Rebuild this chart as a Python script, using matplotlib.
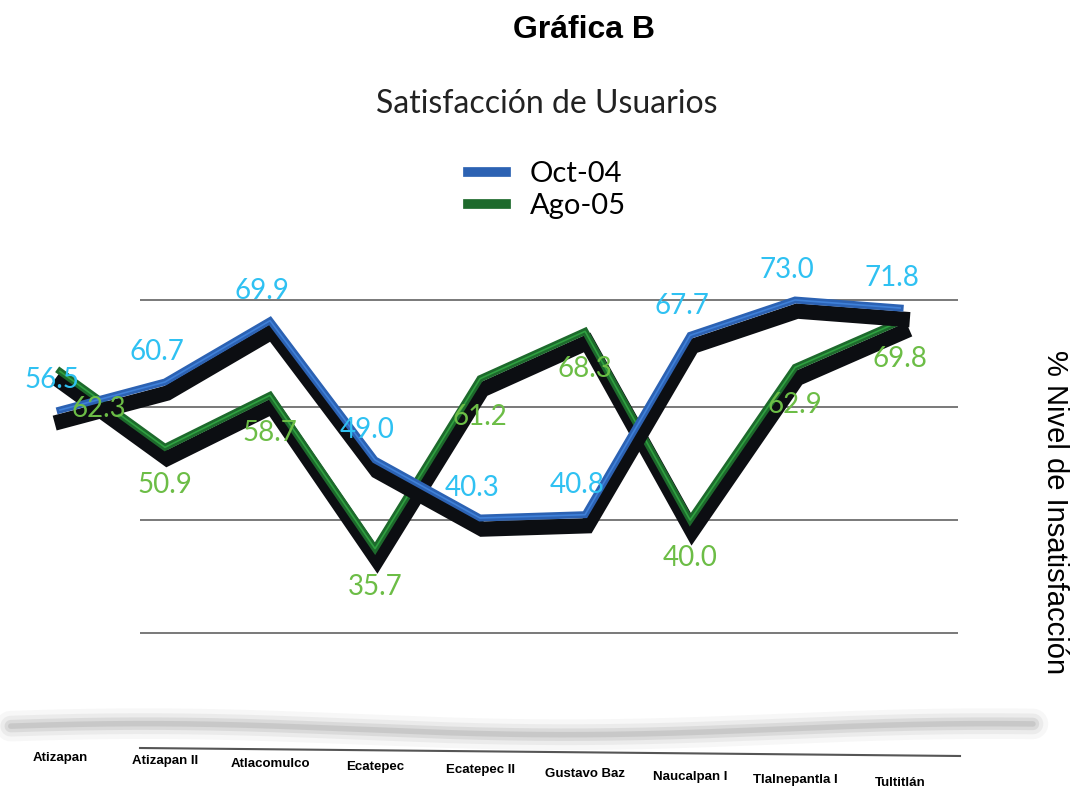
import matplotlib
matplotlib.use('Agg')
import matplotlib.pyplot as plt
import matplotlib.patheffects as pe
import matplotlib.transforms as mtransforms
import numpy as np

categories = ['Atizapan', 'Atizapan II', 'Atlacomulco', 'Ecatepec', 'Ecatepec II',
              'Gustavo Baz', 'Naucalpan I', 'Tlalnepantla I', 'Tultitlán']
oct04 = [56.5, 60.7, 69.9, 49.0, 40.3, 40.8, 67.7, 73.0, 71.8]
ago05 = [62.3, 50.9, 58.7, 35.7, 61.2, 68.3, 40.0, 62.9, 69.8]
grid_levels = [23, 40, 57, 73]

BLUE = '#2c62b3'
GREEN = '#1d6a2c'
BLUE_TXT = '#2fc1f2'
GREEN_TXT = '#6cbd46'
NUM_FONT = ['Lato', 'DejaVu Sans']

fig = plt.figure(figsize=(10.76, 7.9), dpi=100)
ax = fig.add_axes([40 / 1076, 1 - 660 / 790, 920 / 1076, 420 / 790])

x = np.arange(len(categories))
ax.set_xlim(-0.19, 8.57)
ax.set_ylim(19, 82)

# grid lines, they start at the second category like in the original
ax.hlines(grid_levels, 0.76, 8.55, color='#555555', lw=1.1, zorder=1)

shadow = [pe.SimpleLineShadow(offset=(1.5, -8), shadow_color='#0c0e12',
                              alpha=1, rho=1, linewidth=11),
          pe.Normal()]
ax.plot(x, ago05, color=GREEN, lw=5, solid_joinstyle='miter',
        path_effects=shadow, zorder=3, label='Ago-05', clip_on=False)
ax.plot(x, ago05, color='#2fa040', lw=1.2, zorder=3.1, clip_on=False)
ax.plot(x, oct04, color=BLUE, lw=5, solid_joinstyle='miter',
        path_effects=shadow, zorder=4, label='Oct-04', clip_on=False)
ax.plot(x, oct04, color='#3f80d8', lw=1.2, zorder=4.1, clip_on=False)

for i, v in enumerate(oct04):
    ax.annotate(f'{v:.1f}', (i, v), xytext=(-6, 12), textcoords='offset points',
                ha='center', va='bottom', fontsize=20, color=BLUE_TXT,
                family=NUM_FONT, zorder=6)
for i, v in enumerate(ago05):
    dx = 28 if i == 0 else 0   # first label sits right of the blue one
    ax.annotate(f'{v:.1f}', (i, v), xytext=(dx, -18), textcoords='offset points',
                ha='center', va='top', fontsize=20, color=GREEN_TXT,
                family=NUM_FONT, zorder=6)

ax.set_xticks(x)
ax.set_xticklabels(categories, fontsize=9.5, fontweight='bold',
                   family='Liberation Sans')
ax.tick_params(axis='x', length=0, pad=66)
# labels step down slightly towards the right (perspective)
for i, lab in enumerate(ax.get_xticklabels()):
    lab.set_transform(lab.get_transform() +
                      mtransforms.ScaledTranslation(0, -i * 0.032, fig.dpi_scale_trans))
ax.set_yticks([])
for s in ax.spines.values():
    s.set_visible(False)

# floor: blurred gray band and a dark line
fx = np.linspace(0.01, 0.96, 200)
band = 0.077 + 0.007 * np.sin(fx * 8 + 0.5)
for w, a in [(22, 0.05), (15, 0.08), (9, 0.12), (4, 0.15)]:
    fig.add_artist(plt.Line2D(fx, band, lw=w, color='#666666', alpha=a,
                              solid_capstyle='round'))
fig.add_artist(plt.Line2D([140 / 1076, 960 / 1076], [1 - 748 / 790, 1 - 756 / 790],
                          lw=1.5, color='#555555'))

fig.text(0.5427, 1 - 30 / 790, 'Gráfica B', ha='center', va='center',
         fontsize=23, fontweight='bold', family='Liberation Sans')
fig.text(0.508, 1 - 104 / 790, 'Satisfacción de Usuarios', ha='center', va='center',
         fontsize=23, family=NUM_FONT, color='#222222')
fig.text(1055 / 1076, 1 - 512 / 790, '% Nivel de Insatisfacción', rotation=270,
         ha='center', va='center', fontsize=21, family='Liberation Sans')

handles, labels = ax.get_legend_handles_labels()
leg = fig.legend(handles[::-1], labels[::-1], loc='center',
                 bbox_to_anchor=(547 / 1076, 1 - 190 / 790), frameon=False,
                 prop={'family': NUM_FONT, 'size': 21}, handlelength=1.3,
                 handletextpad=0.8, labelspacing=0.2)
for h in leg.legend_handles:
    h.set_path_effects([])
    h.set_linewidth(7)

fig.savefig('out.png', dpi=100)
